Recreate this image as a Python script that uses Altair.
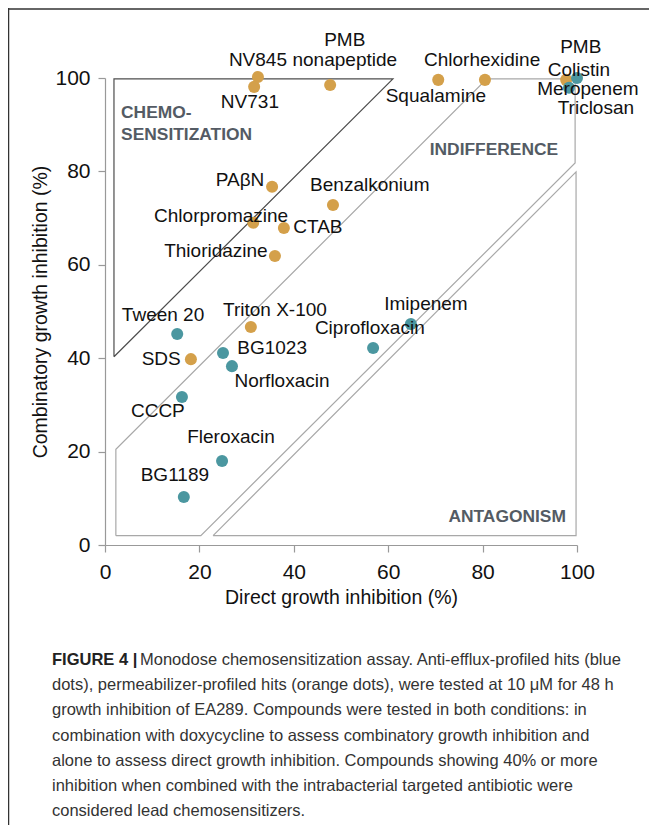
import altair as alt
import pandas as pd

# ---- data ----
orange_names = ["NV845", "NV731", "PMB nonapeptide", "Squalamine", "Chlorhexidine", "PMB",
                "PAβN", "Benzalkonium", "Chlorpromazine", "CTAB", "Thioridazine",
                "Triton X-100", "SDS"]
orange_x = [32.4, 31.6, 47.7, 70.6, 80.5, 97.7, 35.4, 48.3, 31.4, 37.9, 36.0, 30.9, 18.2]
orange_y = [100.2, 98.1, 98.5, 99.6, 99.6, 99.6, 76.7, 72.8, 69.0, 67.9, 61.9, 46.7, 39.8]

teal_names = ["Tween 20", "BG1023", "Norfloxacin", "CCCP", "Fleroxacin", "BG1189",
              "Ciprofloxacin", "Imipenem", "Meropenem", "Colistin"]
teal_x = [15.3, 25.0, 26.9, 16.3, 24.8, 16.7, 56.8, 64.8, 98.3, 100.0]
teal_y = [45.2, 41.1, 38.3, 31.7, 18.0, 10.3, 42.2, 47.3, 97.9, 100.0]

label_text = ["NV845", "NV731", "PMB", "nonapeptide", "Chlorhexidine", "Squalamine",
              "PMB", "Colistin", "Meropenem", "Triclosan", "PAβN", "Benzalkonium",
              "Chlorpromazine", "CTAB", "Thioridazine", "Triton X-100", "Tween 20", "SDS",
              "BG1023", "Norfloxacin", "CCCP", "Fleroxacin", "BG1189", "Ciprofloxacin",
              "Imipenem"]
label_x = [32.4, 30.7, 50.8, 50.8, 79.9, 70.1, 100.8, 100.4, 102.3, 104.0, 28.6, 56.1,
           24.6, 45.1, 23.5, 36.0, 12.3, 11.9, 35.4, 37.5, 11.2, 26.7, 14.8, 56.1, 68.0]
label_y = [103.9, 94.9, 108.1, 103.9, 103.9, 96.1, 106.6, 101.7, 97.6, 93.6, 78.2, 77.1,
           70.4, 68.1, 63.0, 50.3, 49.3, 39.8, 42.2, 35.1, 28.7, 23.1, 15.0, 46.5, 51.6]

chemo_x = [1.9, 1.9, 61.0, 1.9]
chemo_y = [40.3, 99.8, 99.8, 40.3]
indiff_x = [2.3, 2.3, 80.9, 99.6, 99.6, 20.3, 2.3]
indiff_y = [2.0, 20.5, 99.8, 99.8, 81.8, 2.0, 2.0]
antag_x = [22.9, 99.8, 99.8, 22.9]
antag_y = [2.0, 2.0, 79.9, 2.0]

region_names = ["CHEMO-", "SENSITIZATION", "INDIFFERENCE", "ANTAGONISM"]
region_x = [3.4, 3.4, 82.4, 85.2]
region_y = [92.5, 87.8, 84.6, 6.0]
region_align = ["left", "left", "center", "center"]

caption_lines = [
    "Monodose chemosensitization assay. Anti-efflux-profiled hits (blue",
    "dots), permeabilizer-profiled hits (orange dots), were tested at 10 μM for 48 h",
    "growth inhibition of EA289. Compounds were tested in both conditions: in",
    "combination with doxycycline to assess combinatory growth inhibition and",
    "alone to assess direct growth inhibition. Compounds showing 40% or more",
    "inhibition when combined with the intrabacterial targeted antibiotic were",
    "considered lead chemosensitizers.",
]

# ---- frames ----
orange_df = pd.DataFrame({"name": orange_names, "x": orange_x, "y": orange_y})
teal_df = pd.DataFrame({"name": teal_names, "x": teal_x, "y": teal_y})
labels_df = pd.DataFrame({"t": label_text, "x": label_x, "y": label_y})
chemo_df = pd.DataFrame({"x": chemo_x, "y": chemo_y, "o": range(len(chemo_x))})
indiff_df = pd.DataFrame({"x": indiff_x, "y": indiff_y, "o": range(len(indiff_x))})
antag_df = pd.DataFrame({"x": antag_x, "y": antag_y, "o": range(len(antag_x))})
reg_df = pd.DataFrame({"t": region_names, "x": region_x, "y": region_y, "a": region_align})

FONT = "Liberation Sans"
xs = alt.Scale(domain=[0, 100], nice=False)
ys = alt.Scale(domain=[0, 100], nice=False)

X = alt.X("x:Q", scale=xs, title="Direct growth inhibition (%)",
          axis=alt.Axis(values=[0, 20, 40, 60, 80, 100], grid=False, tickSize=7,
                        labelFontSize=21, labelPadding=9, labelFlush=False,
                        titleFontSize=19.5, titlePadding=6))
Y = alt.Y("y:Q", scale=ys, title="Combinatory growth inhibition (%)",
          axis=alt.Axis(values=[0, 20, 40, 60, 80, 100], grid=False, tickSize=7,
                        labelFontSize=21, labelPadding=8, labelFlush=False,
                        titleFontSize=19.5, titlePadding=4))

def poly(df, color):
    return alt.Chart(df).mark_line(color=color, strokeWidth=1.2).encode(
        x=alt.X("x:Q", scale=xs), y=alt.Y("y:Q", scale=ys), order="o:Q")

base_axes = alt.Chart(orange_df).mark_point(opacity=0).encode(x=X, y=Y)

chemo = poly(chemo_df, "#4d4d4d")
indiff = poly(indiff_df, "#a8a8a8")
antag = poly(antag_df, "#a8a8a8")

orange = alt.Chart(orange_df).mark_circle(size=145, color="#D4A04A", opacity=1).encode(
    x=alt.X("x:Q", scale=xs), y=alt.Y("y:Q", scale=ys))
teal = alt.Chart(teal_df).mark_circle(size=145, color="#4B97A0", opacity=1).encode(
    x=alt.X("x:Q", scale=xs), y=alt.Y("y:Q", scale=ys))

labels = alt.Chart(labels_df).mark_text(fontSize=19, font=FONT, color="#111111",
                                        baseline="middle", align="center").encode(
    x=alt.X("x:Q", scale=xs), y=alt.Y("y:Q", scale=ys), text="t:N")

reg_left = alt.Chart(reg_df[reg_df.a == "left"]).mark_text(
    fontSize=17.4, font=FONT, fontWeight="bold", color="#545b64", align="left",
    baseline="middle").encode(x=alt.X("x:Q", scale=xs), y=alt.Y("y:Q", scale=ys), text="t:N")
reg_center = alt.Chart(reg_df[reg_df.a == "center"]).mark_text(
    fontSize=17.4, font=FONT, fontWeight="bold", color="#545b64", align="center",
    baseline="middle").encode(x=alt.X("x:Q", scale=xs), y=alt.Y("y:Q", scale=ys), text="t:N")

# figure frame (top and left rules)
frame_top = alt.Chart(pd.DataFrame({"a": [0]})).mark_rule(color="#333333", strokeWidth=1.5).encode(
    x=alt.value(-97), x2=alt.value(600), y=alt.value(-69))
frame_left = alt.Chart(pd.DataFrame({"a": [0]})).mark_rule(color="#333333", strokeWidth=1.5).encode(
    x=alt.value(-96.5), y=alt.value(-70), y2=alt.value(760))

# caption
cap_layers = []
cap_top = 582
cap_step = 25.2
bold = alt.Chart(pd.DataFrame({"t": ["FIGURE 4 |"]})).mark_text(
    font=FONT, fontSize=16.5, fontWeight="bold", color="#222222", align="left",
    baseline="middle").encode(x=alt.value(-53), y=alt.value(cap_top), text="t:N")
cap_layers.append(bold)
for i, line in enumerate(caption_lines):
    xpos = 35 if i == 0 else -53
    cap_layers.append(
        alt.Chart(pd.DataFrame({"t": [line]})).mark_text(
            font=FONT, fontSize=16.5, color="#333333", align="left",
            baseline="middle").encode(x=alt.value(xpos), y=alt.value(cap_top + i * cap_step),
                                      text="t:N"))

chart = alt.layer(base_axes, chemo, indiff, antag, orange, teal, labels, reg_left,
                  reg_center, frame_top, frame_left, *cap_layers).properties(
    width=472, height=467,
    autosize=alt.AutoSizeParams(type="none"),
    padding={"left": 97, "top": 70, "right": 72, "bottom": 280},
).configure_view(stroke=None).configure_axis(
    domainColor="#999999", tickColor="#999999", labelColor="#111111",
    titleColor="#111111", labelFont=FONT, titleFont=FONT, titleFontWeight="normal",
    domainWidth=1.2, tickWidth=1.2)

chart.save("out.html", embed_options={"renderer": "svg", "actions": False})
